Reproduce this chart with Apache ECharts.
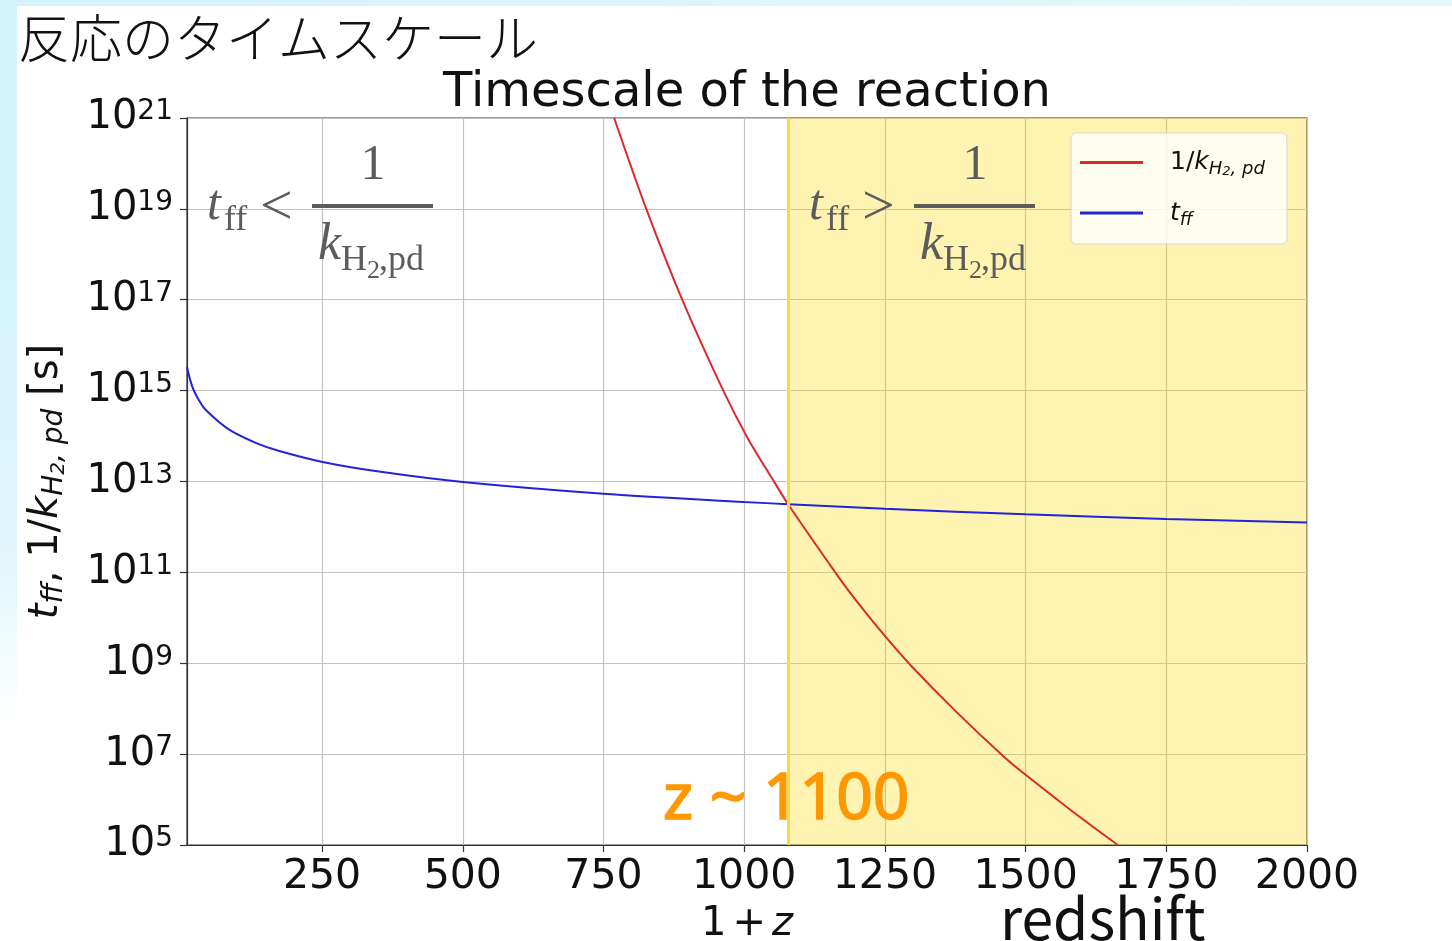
<!DOCTYPE html>
<html>
<head>
<meta charset="utf-8">
<title>反応のタイムスケール</title>
<script src="https://cdn.jsdelivr.net/npm/echarts@6/dist/echarts.min.js"></script>
<style>
  html, body { margin: 0; padding: 0; background: #ffffff; }
  #page { position: relative; width: 1452px; height: 941px; overflow: hidden; background: #ffffff; }
  #edgeLeft { position: absolute; left: 0; top: 0; width: 17px; height: 941px;
    background: linear-gradient(to bottom, #d3f3fb 0%, #dcf5fb 55%, #ffffff 78%); }
  #edgeTop { position: absolute; left: 0; top: 0; width: 1452px; height: 6px;
    background: linear-gradient(to right, #d3f3fb, #e4f8fc); }
  #chart { position: absolute; left: 0; top: 0; width: 1452px; height: 941px; }
</style>
</head>
<body>
<div id="page">
  <div id="edgeLeft"></div>
  <div id="edgeTop"></div>
  <div id="chart"></div>
</div>
<script>
// 1 + z values and timescales [s] for the H2 photodissociation time 1/k
const photoRedshift = [769, 826, 891, 962, 1006, 1055, 1078, 1170, 1199, 1250, 1297, 1377, 1460, 1500, 1584, 1664];
const photoTime = [1.0e21, 1.0e19, 9.3e16, 1.05e15, 9.1e13, 9.1e12, 3.16e12, 7.2e10, 2.4e10, 4.0e9, 8.7e8, 8.5e7, 9.1e6, 3.5e6, 5.4e5, 1.0e5];

// 1 + z values and free-fall times [s]
const freefallRedshift = [10, 19, 31, 43, 85, 132, 174, 251, 351, 500, 750, 1000, 1078, 1250, 1500, 1750, 2000];
const freefallTime = [3.3e15, 1.26e15, 6.2e14, 3.8e14, 1.38e14, 7.1e13, 4.7e13, 2.7e13, 1.66e13, 9.8e12, 5.4e12, 3.55e12, 3.16e12, 2.5e12, 1.9e12, 1.5e12, 1.26e12];

// where the two timescales cross (start of the shaded band)
const crossingRedshift = 1078;
const redshiftMin = 10;
const redshiftMax = 2000;

// axis ticks
const xTickValues = [250, 500, 750, 1000, 1250, 1500, 1750, 2000];
const yMin = 1e5, yMax = 1e21;

const photoPoints = photoRedshift.map((z, i) => [z, photoTime[i]]);
const freefallPoints = freefallRedshift.map((z, i) => [z, freefallTime[i]]);

const AXIS = '#333333';
const GRID = '#c2c2c2';
const GREY = '#5c5c5c';
const SERIF = '"Liberation Serif", "DejaVu Serif", serif';
const SANS = '"DejaVu Sans", sans-serif';

// one fraction annotation: t_ff (<|>) 1 / k_{H2,pd}
function fractionNote(x0, relation) {
  const t = (text, x, y, size, italic, align) => ({
    type: 'text', x: x0 + x, y: y, z: 100, silent: true,
    style: {
      text: text, fill: GREY, fontFamily: SERIF, fontSize: size,
      fontStyle: italic ? 'italic' : 'normal',
      align: align || 'left', verticalAlign: 'middle'
    }
  });
  return [
    t('t', 0, 206, 50, true),
    t('ff', 17, 221, 36, false),
    t(relation, 53, 209, 58, false),
    { type: 'rect', z: 100, silent: true, shape: { x: x0 + 105, y: 204, width: 121, height: 4 }, style: { fill: GREY } },
    t('1', 166, 166, 50, false, 'center'),
    t('k', 111, 245, 52, true),
    t('H', 134, 261, 36, false),
    t('2', 160, 271, 26, false),
    t(',pd', 172, 261, 36, false)
  ];
}

const chart = echarts.init(document.getElementById('chart'), null, { renderer: 'canvas' });

const option = {
  backgroundColor: 'transparent',
  animation: false,
  grid: {
    left: 187, right: 145, top: 118, bottom: 96,
    outerBoundsMode: 'none', containLabel: false,
    show: true, borderColor: AXIS, borderWidth: 1.2, backgroundColor: 'transparent'
  },
  legend: {
    orient: 'vertical', left: 1071, top: 133,
    padding: [17, 22, 15, 9],
    icon: 'rect', itemWidth: 63, itemHeight: 3, itemGap: 22,
    backgroundColor: 'rgba(255,255,255,0.8)',
    borderColor: 'rgba(204,204,204,0.8)', borderWidth: 1, borderRadius: 5,
    data: ['photo', 'freefall'],
    formatter: function (name) {
      return name === 'photo'
        ? '{n0|1/}{i|k}{si|H}{ss|2}{si|, pd}'
        : '{i0|t}{si|ff}';
    },
    textStyle: {
      color: '#111',
      rich: {
        n0: { fontFamily: SANS, fontSize: 25, lineHeight: 32, padding: [0, 0, 0, 22] },
        i0: { fontFamily: SANS, fontSize: 25, fontStyle: 'italic', lineHeight: 32, padding: [0, 0, 0, 22] },
        i: { fontFamily: SANS, fontSize: 25, fontStyle: 'italic', lineHeight: 32 },
        si: { fontFamily: SANS, fontSize: 18, fontStyle: 'italic', lineHeight: 14, verticalAlign: 'bottom' },
        ss: { fontFamily: SANS, fontSize: 13, fontStyle: 'italic', lineHeight: 8, verticalAlign: 'bottom' }
      }
    }
  },
  xAxis: {
    type: 'value', min: redshiftMin, max: redshiftMax,
    axisLine: { show: true, lineStyle: { color: AXIS, width: 1.2 } },
    axisTick: { show: true, length: 7, customValues: xTickValues, lineStyle: { color: AXIS, width: 1.2 } },
    axisLabel: {
      customValues: xTickValues, fontFamily: SANS, fontSize: 41, color: '#111', margin: 12,
      formatter: function (v) { return String(v); }
    },
    splitLine: { show: true, lineStyle: { color: GRID, width: 1.2 } },
    name: '{n|1}{p|+}{i|z}', nameLocation: 'middle', nameGap: 60,
    nameTextStyle: {
      rich: {
        n: { fontFamily: SANS, fontSize: 40, color: '#111' },
        p: { fontFamily: SANS, fontSize: 40, color: '#111', padding: [0, 6, 0, 6] },
        i: { fontFamily: SANS, fontSize: 40, fontStyle: 'italic', color: '#111' }
      }
    }
  },
  yAxis: {
    type: 'log', logBase: 10, min: yMin, max: yMax, interval: 2,
    axisLine: { show: true, lineStyle: { color: AXIS, width: 1.2 } },
    axisTick: { show: true, length: 7, lineStyle: { color: AXIS, width: 1.2 } },
    minorTick: { show: false },
    axisLabel: {
      margin: 14,
      formatter: function (v) {
        return '{b|10}{s|' + Math.round(Math.log10(v)) + '}';
      },
      rich: {
        b: { fontFamily: SANS, fontSize: 40, color: '#111', lineHeight: 40 },
        s: { fontFamily: SANS, fontSize: 28, color: '#111', lineHeight: 20, verticalAlign: 'top' }
      }
    },
    splitLine: { show: true, lineStyle: { color: GRID, width: 1.2 } },
    name: '{i|t}{si|ff}{n|, 1/}{i|k}{si|H}{ss|2}{si|, pd}{n| [s]}',
    nameLocation: 'middle', nameRotate: 90, nameGap: 118,
    nameTextStyle: {
      color: '#111',
      rich: {
        n: { fontFamily: SANS, fontSize: 40, lineHeight: 44 },
        i: { fontFamily: SANS, fontSize: 40, fontStyle: 'italic', lineHeight: 44 },
        si: { fontFamily: SANS, fontSize: 28, fontStyle: 'italic', lineHeight: 22, verticalAlign: 'bottom' },
        ss: { fontFamily: SANS, fontSize: 20, fontStyle: 'italic', lineHeight: 12, verticalAlign: 'bottom' }
      }
    }
  },
  series: [
    {
      // shaded band where t_ff > 1/k, with its edge line
      name: 'band', type: 'line', data: [], z: 1, silent: true,
      markArea: {
        silent: true,
        itemStyle: { color: 'rgba(255,215,0,0.3)' },
        data: [[{ xAxis: crossingRedshift }, { xAxis: redshiftMax }]]
      },
      markLine: {
        silent: true, symbol: ['none', 'none'],
        label: { show: false },
        lineStyle: { color: '#f6dc3e', width: 3, type: 'solid' },
        data: [{ xAxis: crossingRedshift }]
      }
    },
    {
      name: 'photo', type: 'line', data: photoPoints, z: 3,
      symbol: 'none', smooth: 0.3,
      lineStyle: { color: '#dc2a2a', width: 2 }, itemStyle: { color: '#dc2a2a' }
    },
    {
      name: 'freefall', type: 'line', data: freefallPoints, z: 4,
      symbol: 'none', smooth: 0.3,
      lineStyle: { color: '#2323d8', width: 2 }, itemStyle: { color: '#2323d8' }
    }
  ],
  graphic: [
    {
      type: 'text', x: 18, y: 38, silent: true,
      style: { text: '反応のタイムスケール', fill: '#111', fontSize: 52, fontWeight: 300,
        fontFamily: '"Noto Sans CJK JP", sans-serif', align: 'left', verticalAlign: 'middle' }
    },
    {
      type: 'text', x: 747, y: 94, silent: true,
      style: { text: 'Timescale of the reaction', fill: '#111', fontSize: 48,
        fontFamily: SANS, align: 'center', verticalAlign: 'middle' }
    }
  ].concat(fractionNote(207, '<'), fractionNote(809, '>'), [
    {
      type: 'text', x: 663, y: 801, silent: true, z: 100,
      style: { text: 'z ~ 1100', fill: '#ff9800', fontSize: 64, fontWeight: 'normal',
        stroke: '#ff9800', lineWidth: 1.6,
        fontFamily: '"Noto Sans", sans-serif', align: 'left', verticalAlign: 'middle' }
    },
    {
      type: 'text', x: 1000, y: 918, silent: true,
      style: { text: 'redshift', fill: '#111', fontSize: 57,
        fontFamily: '"Noto Sans CJK JP", sans-serif', align: 'left', verticalAlign: 'middle' }
    }
  ])
};

chart.setOption(option);
</script>
</body>
</html>
